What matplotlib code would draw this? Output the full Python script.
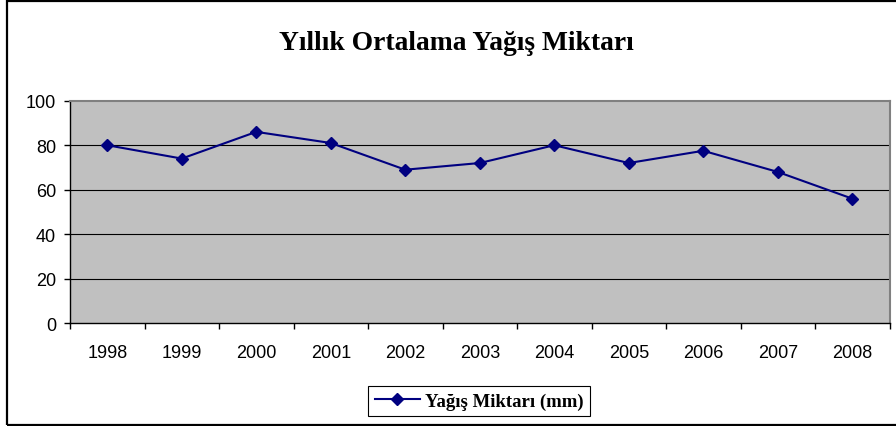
import matplotlib
matplotlib.use("Agg")
import matplotlib.pyplot as plt
from matplotlib.patches import Rectangle
import numpy as np

years = ["1998", "1999", "2000", "2001", "2002", "2003", "2004", "2005", "2006", "2007", "2008"]
values = [80, 74, 86, 81, 69, 72, 80, 72, 77.5, 68, 56]
title = "Yıllık Ortalama Yağış Miktarı"
series_name = "Yağış Miktarı (mm)"
y_ticks = [0, 20, 40, 60, 80, 100]

W, H = 896, 427
fig = plt.figure(figsize=(W / 100, H / 100), dpi=100)
fig.patch.set_facecolor("white")

ax = fig.add_axes([70 / W, (H - 324.3) / H, (889.5 - 70) / W, (324.3 - 101.7) / H])
ax.set_facecolor("#C0C0C0")

x = np.arange(len(years))
line, = ax.plot(x, values, color="#000080", lw=1.5, marker="D", markersize=6,
                markerfacecolor="#000080", markeredgecolor="#000080", zorder=3)

ax.set_xlim(-0.5, len(years) - 0.5)
ax.set_ylim(0, 100)
ax.set_yticks(y_ticks)
ax.set_yticklabels([str(v) for v in y_ticks], fontsize=13, family="Liberation Sans")
ax.set_xticks(x)
ax.set_xticklabels(years, fontsize=13, family="Liberation Sans")
ax.set_xticks(np.arange(-0.5, len(years)), minor=True)
ax.tick_params(axis="x", which="major", length=0, pad=15)
ax.tick_params(axis="x", which="minor", length=4, width=1, direction="out", color="#000000")
ax.tick_params(axis="y", length=4, width=1, direction="out", pad=6, color="#000000")

for yv in y_ticks[1:-1]:
    ax.axhline(yv, color="#000000", lw=0.8, zorder=1)

ax.spines["top"].set_color("#808080")
ax.spines["right"].set_color("#808080")
ax.spines["top"].set_linewidth(1.5)
ax.spines["right"].set_linewidth(1.5)
ax.spines["left"].set_color("#000000")
ax.spines["bottom"].set_color("#000000")
ax.spines["left"].set_linewidth(1)
ax.spines["bottom"].set_linewidth(1)

fig.text(456.5 / W, 1 - 43 / H, title, ha="center", va="center",
         fontsize=19.8, fontweight="bold", family="Liberation Serif")

leg = fig.legend([line], [series_name], loc="center",
                 bbox_to_anchor=(479 / W, 1 - 402 / H),
                 prop={"family": "Liberation Serif", "weight": "bold", "size": 13.5},
                 frameon=True, fancybox=False, shadow=False, handlelength=2.4,
                 borderpad=0.35, handletextpad=0.25, borderaxespad=0)
leg.get_frame().set_edgecolor("#000000")
leg.get_frame().set_linewidth(0.8)
leg.get_frame().set_alpha(1)

fig.add_artist(Rectangle((7 / W, 1 / H), 1.0, 1 - 3 / H, transform=fig.transFigure,
                         fill=False, edgecolor="#000000", lw=1.6, clip_on=False))

fig.savefig("out.png", dpi=100)
